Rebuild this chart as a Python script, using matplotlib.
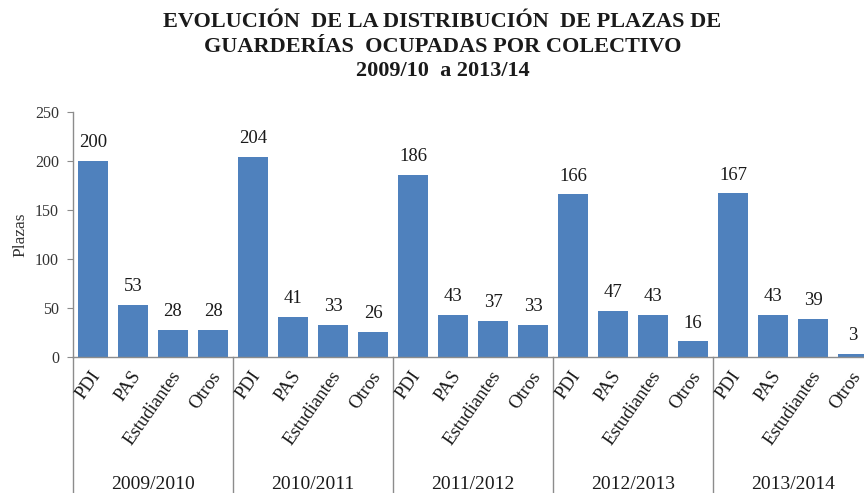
import matplotlib
matplotlib.use("Agg")
import matplotlib.pyplot as plt
import matplotlib.transforms as mtransforms

# Data
years = ["2009/2010", "2010/2011", "2011/2012", "2012/2013", "2013/2014"]
groups = ["PDI", "PAS", "Estudiantes", "Otros"]
pdi = [200, 204, 186, 166, 167]
pas = [53, 41, 43, 47, 43]
estudiantes = [28, 33, 37, 43, 39]
otros = [28, 26, 33, 16, 3]

series = [pdi, pas, estudiantes, otros]

plt.rcParams["font.family"] = ["Liberation Serif", "DejaVu Serif"]
BAR = "#4F81BD"
AXIS = "#8C8C8C"
TXT = "#1a1a1a"

W, H = 864, 493
fig = plt.figure(figsize=(W / 100, H / 100), dpi=100)
left, right, top, zero = 73, 873, 112, 357
ax = fig.add_axes([left / W, (H - zero) / H, (right - left) / W, (zero - top) / H])

n = len(groups)
xs, vals, labels = [], [], []
for yi in range(len(years)):
    for gi in range(n):
        xs.append(yi * n + gi + 0.5)
        vals.append(series[gi][yi])
        labels.append(groups[gi])

bars = ax.bar(xs, vals, width=0.73, color=BAR, zorder=2)
for b, v in zip(bars, vals):
    ax.annotate(f"{v}", (b.get_x() + b.get_width() / 2, v), xytext=(0, 7),
                textcoords="offset points", ha="center", va="bottom",
                fontsize=13.5, color=TXT)

ax.set_xlim(0, n * len(years))
ax.set_ylim(0, 250)
ax.set_yticks(range(0, 251, 50))
ax.tick_params(axis="y", labelsize=11.5, colors=AXIS, labelcolor="#333333",
               length=4, pad=6, direction="out")
ax.set_xticks([])
for s in ["top", "right"]:
    ax.spines[s].set_visible(False)
for s in ["left", "bottom"]:
    ax.spines[s].set_color(AXIS)
    ax.spines[s].set_linewidth(1.0)
ax.set_ylabel("Plazas", fontsize=12.5, color="#333333", labelpad=5)

# Category axis below the plot
trans = mtransforms.blended_transform_factory(ax.transData, ax.transAxes)
bottom_ax = -(H - zero) / (zero - top)
for x, lab in zip(xs, labels):
    ax.text(x + 0.1, -0.065, lab, transform=trans, rotation=55,
            rotation_mode="anchor", ha="right", va="center",
            fontsize=13.5, color=TXT)
for yi, yr in enumerate(years):
    ax.text(yi * n + n / 2, -0.52, yr, transform=trans, ha="center",
            va="center", fontsize=14, color=TXT)
for yi in range(len(years) + 1):
    ax.plot([yi * n, yi * n], [0, bottom_ax], transform=trans, color=AXIS,
            lw=1.0, clip_on=False)

fig.text(0.512, 0.975, "EVOLUCIÓN  DE LA DISTRIBUCIÓN  DE PLAZAS DE\n"
         "GUARDERÍAS  OCUPADAS POR COLECTIVO\n2009/10  a 2013/14",
         ha="center", va="top", fontsize=16, fontweight="bold",
         color=TXT, linespacing=1.3)

fig.savefig("out.png", dpi=100)
